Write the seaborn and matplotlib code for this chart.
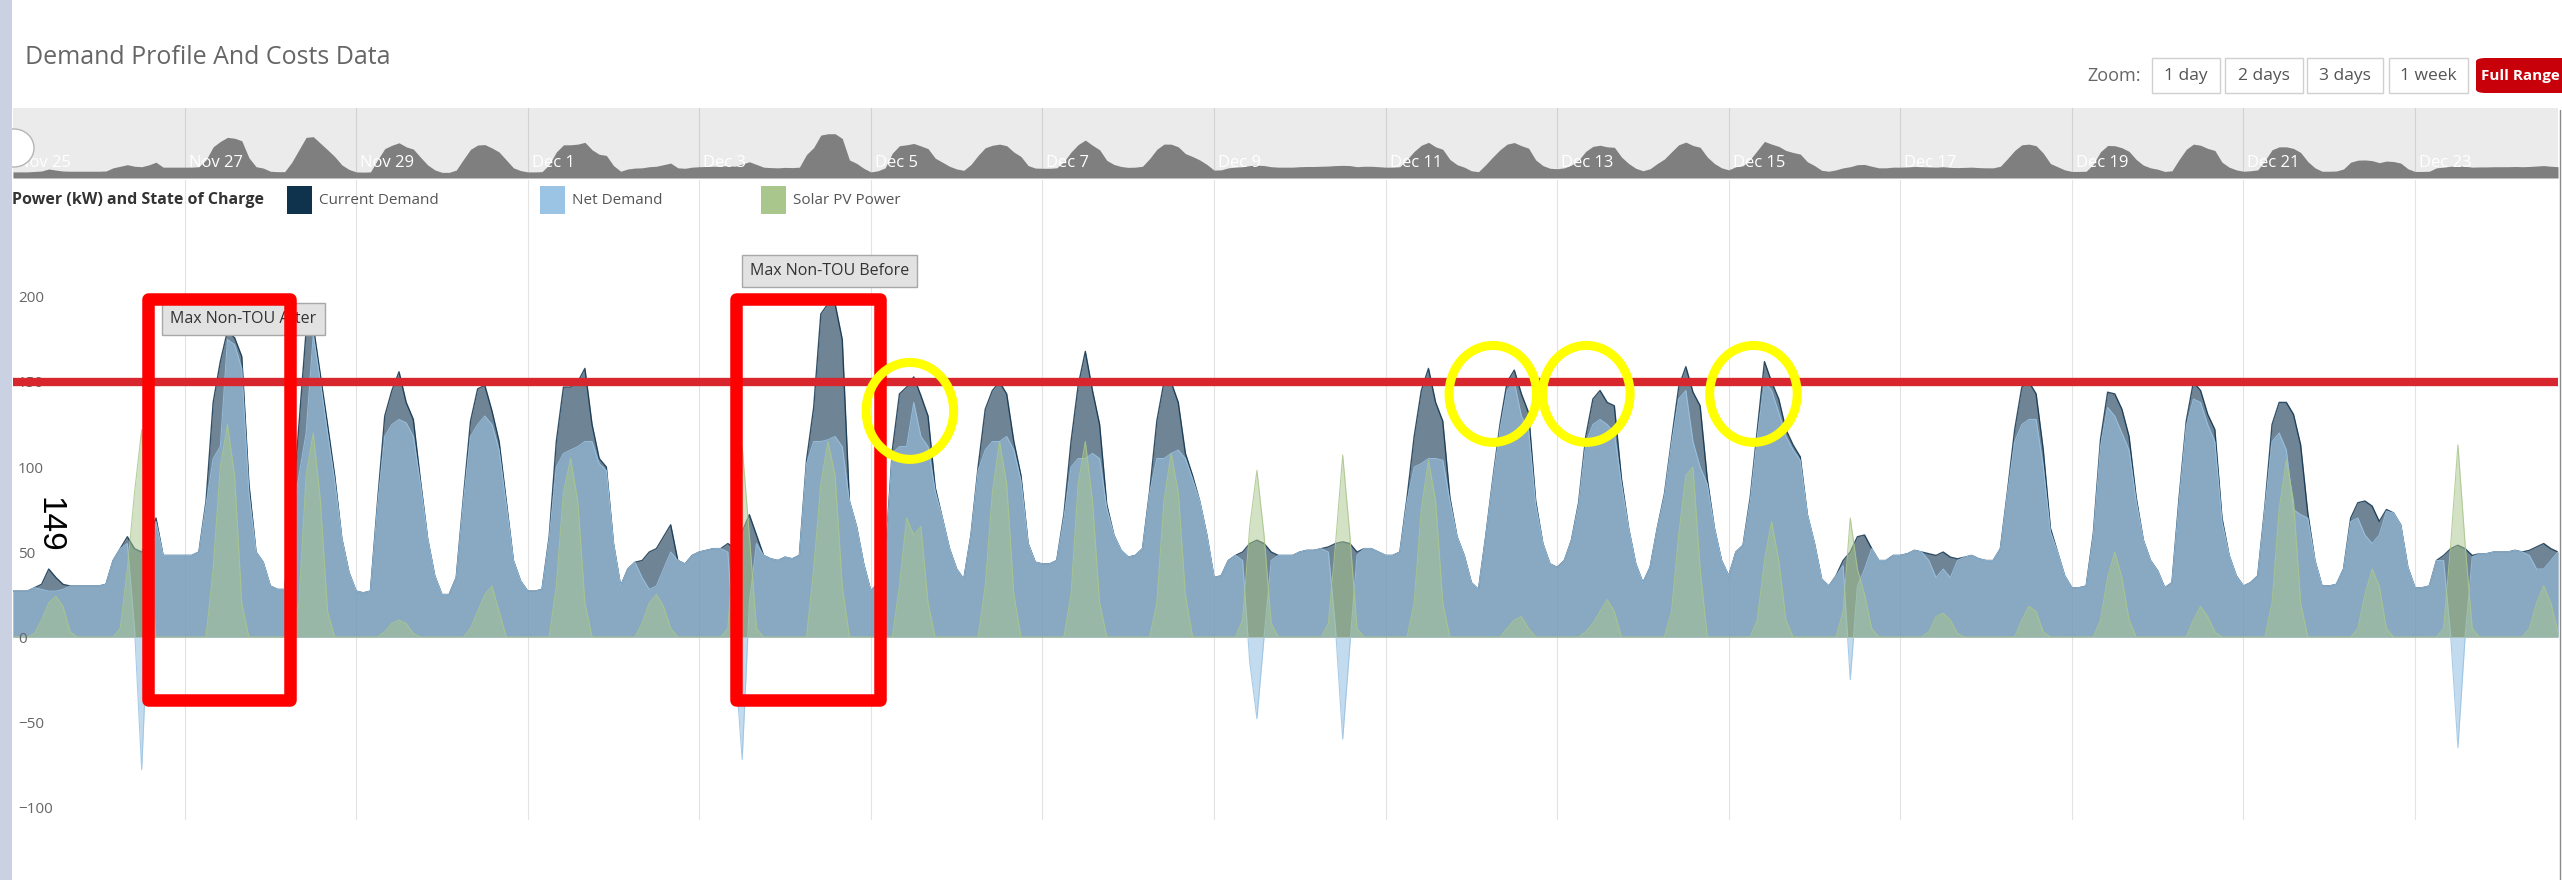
import matplotlib
matplotlib.use("Agg")
import numpy as np
import pandas as pd
import matplotlib.pyplot as plt
import matplotlib.dates as mdates
import matplotlib.transforms as mtransforms
from matplotlib.patches import Rectangle, Ellipse, FancyBboxPatch
from matplotlib.lines import Line2D
import seaborn as sns

W, H = 2562, 880

# two-hourly readings (00:00, 02:00 ... 22:00), one row per day, first row = Sat 25 Nov 2017
start_day = "2017-11-25"
current_demand = [
    [27, 27, 27, 29, 31, 40, 35, 31, 30, 30, 30, 30],
    [30, 31, 45, 52, 59, 52, 50, 58, 70, 48, 48, 48],
    [48, 48, 50, 80, 138, 162, 180, 176, 165, 90, 50, 44],
    [30, 28, 28, 70, 125, 180, 183, 154, 125, 95, 58, 38],
    [27, 26, 27, 80, 130, 145, 156, 138, 128, 92, 58, 36],
    [25, 25, 35, 82, 127, 146, 148, 133, 115, 80, 45, 33],
    [27, 27, 28, 59, 115, 147, 147, 150, 158, 125, 105, 100],
    [55, 30, 40, 44, 45, 50, 52, 59, 66, 45, 43, 48],
    [50, 51, 52, 52, 55, 52, 62, 72, 60, 48, 46, 45],
    [47, 46, 48, 104, 135, 190, 196, 196, 175, 80, 65, 43],
    [27, 32, 45, 110, 143, 147, 153, 142, 130, 88, 70, 52],
    [40, 34, 60, 100, 134, 145, 150, 143, 115, 95, 55, 44],
    [43, 43, 45, 72, 115, 148, 168, 145, 125, 78, 60, 51],
    [47, 48, 52, 86, 127, 150, 150, 138, 108, 95, 80, 60],
    [35, 36, 45, 48, 50, 55, 57, 55, 50, 48, 48, 48],
    [50, 51, 51, 52, 53, 55, 56, 55, 50, 52, 52, 50],
    [48, 48, 50, 82, 118, 145, 158, 138, 127, 82, 59, 48],
    [32, 28, 59, 93, 125, 150, 157, 143, 132, 80, 55, 43],
    [41, 45, 57, 79, 118, 140, 145, 138, 136, 93, 64, 43],
    [32, 41, 64, 84, 116, 147, 159, 144, 136, 93, 64, 45],
    [36, 50, 54, 82, 122, 162, 150, 140, 122, 113, 106, 72],
    [55, 34, 30, 36, 45, 50, 59, 60, 52, 45, 45, 48],
    [48, 49, 51, 50, 49, 48, 50, 47, 46, 47, 48, 46],
    [45, 45, 52, 86, 122, 147, 150, 143, 110, 64, 50, 36],
    [29, 29, 30, 61, 116, 144, 143, 134, 118, 82, 57, 45],
    [39, 29, 32, 82, 127, 150, 145, 131, 122, 70, 48, 36],
    [30, 32, 36, 77, 125, 138, 138, 131, 113, 73, 45, 30],
    [30, 31, 40, 70, 79, 80, 77, 68, 75, 73, 66, 41],
    [29, 29, 30, 45, 48, 52, 54, 52, 48, 49, 49, 50],
    [50, 50, 51, 50, 51, 53, 55, 52, 50],
]
net_demand = [
    [27, 27, 27, 29, 28, 27, 27, 28, 30, 30, 30, 30],
    [30, 31, 45, 52, 55, 5, -78, 20, 68, 48, 48, 48],
    [48, 48, 50, 78, 105, 112, 175, 172, 158, 85, 50, 44],
    [30, 28, 28, 68, 95, 120, 178, 150, 120, 92, 58, 38],
    [27, 26, 27, 78, 118, 125, 128, 126, 118, 90, 58, 36],
    [25, 25, 35, 80, 118, 125, 130, 125, 110, 78, 45, 33],
    [27, 27, 28, 58, 100, 108, 110, 112, 115, 115, 102, 98],
    [55, 30, 40, 44, 35, 28, 30, 40, 50, 45, 43, 48],
    [50, 51, 52, 52, 50, -15, -72, 20, 55, 48, 46, 45],
    [47, 46, 48, 102, 115, 115, 116, 118, 112, 80, 65, 43],
    [27, 32, 45, 108, 112, 112, 138, 118, 112, 86, 70, 52],
    [40, 34, 60, 98, 110, 115, 115, 118, 110, 92, 55, 44],
    [43, 43, 45, 70, 100, 105, 105, 108, 105, 76, 60, 51],
    [47, 48, 52, 85, 105, 105, 108, 110, 105, 93, 80, 60],
    [35, 36, 45, 48, 45, -15, -48, 0, 45, 48, 48, 48],
    [50, 51, 51, 52, 50, 5, -60, -5, 48, 52, 52, 50],
    [48, 48, 50, 80, 100, 102, 105, 105, 104, 80, 59, 48],
    [32, 28, 59, 92, 122, 145, 150, 130, 122, 78, 55, 43],
    [41, 45, 57, 78, 114, 125, 128, 125, 120, 90, 64, 43],
    [32, 41, 64, 83, 114, 140, 145, 115, 100, 90, 64, 45],
    [36, 50, 54, 80, 118, 150, 145, 132, 118, 110, 104, 72],
    [55, 34, 30, 36, 42, -25, 30, 40, 52, 45, 45, 48],
    [48, 49, 51, 50, 45, 35, 40, 35, 45, 47, 48, 46],
    [45, 45, 52, 85, 115, 125, 128, 128, 100, 62, 50, 36],
    [29, 29, 30, 60, 112, 135, 130, 120, 110, 80, 57, 45],
    [39, 29, 32, 80, 124, 140, 138, 125, 115, 68, 48, 36],
    [30, 32, 36, 76, 115, 120, 110, 75, 72, 70, 45, 30],
    [30, 31, 40, 68, 70, 60, 55, 60, 74, 73, 66, 41],
    [29, 29, 30, 45, 45, 0, -65, 0, 47, 49, 49, 50],
    [50, 50, 51, 50, 48, 40, 40, 45, 50],
]
solar_pv = [
    [0, 0, 0, 2, 10, 20, 24, 18, 3, 0, 0, 0],
    [0, 0, 0, 5, 40, 85, 122, 45, 0, 0, 0, 0],
    [0, 0, 0, 0, 40, 100, 125, 95, 20, 0, 0, 0],
    [0, 0, 0, 0, 20, 95, 120, 80, 15, 0, 0, 0],
    [0, 0, 0, 0, 3, 8, 10, 8, 2, 0, 0, 0],
    [0, 0, 0, 0, 5, 15, 25, 30, 15, 0, 0, 0],
    [0, 0, 0, 0, 30, 85, 105, 80, 20, 0, 0, 0],
    [0, 0, 0, 0, 8, 20, 25, 18, 5, 0, 0, 0],
    [0, 0, 0, 0, 5, 65, 112, 60, 5, 0, 0, 0],
    [0, 0, 0, 0, 40, 90, 115, 95, 30, 0, 0, 0],
    [0, 0, 0, 0, 30, 70, 60, 65, 20, 0, 0, 0],
    [0, 0, 0, 0, 30, 85, 115, 90, 25, 0, 0, 0],
    [0, 0, 0, 0, 25, 90, 115, 80, 20, 0, 0, 0],
    [0, 0, 0, 0, 20, 80, 108, 85, 25, 0, 0, 0],
    [0, 0, 0, 0, 10, 65, 98, 60, 8, 0, 0, 0],
    [0, 0, 0, 0, 8, 55, 107, 60, 5, 0, 0, 0],
    [0, 0, 0, 0, 20, 75, 104, 80, 20, 0, 0, 0],
    [0, 0, 0, 0, 0, 5, 10, 12, 5, 0, 0, 0],
    [0, 0, 0, 0, 3, 8, 15, 22, 15, 0, 0, 0],
    [0, 0, 0, 0, 15, 60, 95, 100, 40, 0, 0, 0],
    [0, 0, 0, 0, 10, 45, 68, 45, 10, 0, 0, 0],
    [0, 0, 0, 0, 15, 70, 40, 25, 5, 0, 0, 0],
    [0, 0, 0, 0, 3, 12, 14, 10, 2, 0, 0, 0],
    [0, 0, 0, 0, 0, 10, 18, 15, 3, 0, 0, 0],
    [0, 0, 0, 0, 10, 35, 50, 35, 10, 0, 0, 0],
    [0, 0, 0, 0, 0, 10, 18, 12, 3, 0, 0, 0],
    [0, 0, 0, 0, 20, 75, 104, 80, 20, 0, 0, 0],
    [0, 0, 0, 0, 5, 25, 40, 30, 5, 0, 0, 0],
    [0, 0, 0, 0, 5, 55, 113, 55, 5, 0, 0, 0],
    [0, 0, 0, 0, 5, 20, 30, 20, 3],
]
demand_limit = 150
limit_label = "149"
y_ticks = [-100, -50, 0, 50, 100, 150, 200]
zoom_buttons = ["1 day", "2 days", "3 days", "1 week"]
series_names = ["Current Demand", "Net Demand", "Solar PV Power"]

# highlighted spans (red boxes) and peaks (yellow rings)
box_spans = [("2017-11-26 13:45", "2017-11-28 05:30"), ("2017-12-03 10:20", "2017-12-05 02:25")]
box_range = (-37, 199)
ring_centres = [("2017-12-05 10:55", 133), ("2017-12-12 06:00", 143),
                ("2017-12-13 08:10", 143), ("2017-12-15 06:55", 143)]
flags = [("2017-11-27 16:30", 187, "Max Non-TOU After"),
         ("2017-12-04 12:20", 215, "Max Non-TOU Before")]

colors = {"Current Demand": "#0f324d", "Net Demand": "#9bc3e3", "Solar PV Power": "#a9c68c"}
alphas = {"Current Demand": 0.6, "Net Demand": 0.6, "Solar PV Power": 0.5}
line_widths = {"Current Demand": 1.0, "Net Demand": 0.8, "Solar PV Power": 0.8}


def flat(rows):
    return [v for row in rows for v in row]


def fx(x):
    return x / W


def fy(y):
    return 1 - y / H


sns.set_theme(style="white")
plt.rcParams["font.family"] = ["Open Sans", "DejaVu Sans"]

df = pd.DataFrame({
    "Current Demand": flat(current_demand),
    "Net Demand": flat(net_demand),
    "Solar PV Power": flat(solar_pv),
})
df["time"] = pd.date_range(start_day, periods=len(df), freq="2h")
grid_days = pd.date_range("2017-11-27", "2017-12-23", freq="2D")
nav_days = pd.date_range(start_day, "2017-12-23", freq="2D")

fig = plt.figure(figsize=(W / 100, H / 100), dpi=100)
fig.patch.set_facecolor("white")

# main chart
ax = fig.add_axes([fx(13), fy(820), (2558 - 13) / W, (820 - 180) / H])
for i, name in enumerate(series_names):
    ax.fill_between(df["time"], 0, df[name], color=colors[name], alpha=alphas[name],
                    lw=0, zorder=1 + 2 * i)
    sns.lineplot(data=df, x="time", y=name, ax=ax, color=colors[name],
                 lw=line_widths[name], alpha=0.85, zorder=2 + 2 * i)
ax.axhline(demand_limit, color="#d8262e", lw=6, zorder=9)
ax.set_xlim(df["time"].iloc[0], df["time"].iloc[-1])
ax.set_ylim(-107.6, 268.8)
ax.set_xticks(grid_days)
ax.set_yticks(y_ticks)
ax.set(xlabel="", ylabel="")
ax.set_axisbelow(True)
ax.grid(axis="x", color="#e3e3e3", lw=0.8)
ax.grid(axis="y", visible=False)
ax.tick_params(axis="x", length=0, labelbottom=False)
ax.tick_params(axis="y", length=0, pad=-3.5, labelsize=11, labelcolor="#666666")
plt.setp(ax.get_yticklabels(), ha="left")
ax.yaxis.set_zorder(8)
ax.set_facecolor("none")
sns.despine(ax=ax, left=True, bottom=True)

for t0, t1 in box_spans:
    x0, x1 = mdates.date2num(pd.Timestamp(t0)), mdates.date2num(pd.Timestamp(t1))
    ax.add_patch(Rectangle((x0, box_range[0]), x1 - x0, box_range[1] - box_range[0],
                           fill=False, ec="#ff0000", lw=9, joinstyle="round", zorder=12))
for t, v in ring_centres:
    ax.add_patch(Ellipse((mdates.date2num(pd.Timestamp(t)), v), 1.02, 57,
                         fill=False, ec="#ffff00", lw=6.5, zorder=12))
for t, v, label in flags:
    ax.text(mdates.date2num(pd.Timestamp(t)), v, label, ha="center", va="center",
            fontsize=11.5, color="#333333", zorder=11,
            bbox=dict(boxstyle="square,pad=0.5", fc="#e2e2e2", ec="#a8a8a8", lw=1))

# navigator strip
nav = fig.add_axes([fx(13), fy(178), (2558 - 13) / W, 70 / H])
nav.set_facecolor("#ebebeb")
nav.fill_between(df["time"], 0, df["Current Demand"], color="#7f7f7f", lw=0)
nav.set_xlim(df["time"].iloc[0], df["time"].iloc[-1])
nav.set_ylim(0, 310)
nav.set_xticks(grid_days)
nav.grid(axis="x", color="#d2d2d2", lw=0.8)
nav.tick_params(length=0, labelbottom=False, labelleft=False)
sns.despine(ax=nav, left=True, bottom=True, right=True, top=True)
lab_tr = mtransforms.offset_copy(nav.get_xaxis_transform(), fig=fig, x=4, y=0, units="dots")
for d in nav_days:
    nav.text(d, 0.22, d.strftime("%b %-d"), transform=lab_tr, color="white",
             fontsize=12, ha="left", va="center")

# page chrome: side bar, title, range buttons, legend
fig.add_artist(Ellipse((fx(14), fy(148)), 40 / W, 38 / H, transform=fig.transFigure,
                       fc="white", ec="#b5b5b5", lw=1, zorder=20))
fig.add_artist(Rectangle((0, 0), 12 / W, 1, transform=fig.transFigure,
                         fc="#c9d1e3", ec="none", zorder=21))
fig.add_artist(Line2D([fx(2559.5)] * 2, [fy(110), 0], color="#8a8a8a", lw=1))
fig.text(fx(25), fy(58), "Demand Profile And Costs Data", fontsize=18, color="#666666",
         va="center", ha="left")
fig.text(fx(2087), fy(76), "Zoom:", fontsize=13, color="#666666", va="center", ha="left")
btn_edges = [(2152, 2220), (2225, 2303), (2307, 2383), (2389, 2468)]
for (x0, x1), label in zip(btn_edges, zoom_buttons):
    fig.add_artist(Rectangle((fx(x0), fy(93)), (x1 - x0) / W, 35 / H,
                             transform=fig.transFigure, fc="white", ec="#d0d0d0", lw=1))
    fig.text(fx((x0 + x1) / 2), fy(76), label, fontsize=12.5, color="#555555",
             ha="center", va="center")
fig.add_artist(FancyBboxPatch((fx(2476), fy(93)), 120 / W, 35 / H,
                              boxstyle="round,pad=0,rounding_size=0.004",
                              transform=fig.transFigure, fc="#c8000a", ec="none"))
fig.text(fx(2481), fy(76), "Full Range", fontsize=11, color="white", weight="bold",
         ha="left", va="center")

fig.text(fx(12), fy(200), "Power (kW) and State of Charge", fontsize=11.5, weight="bold",
         color="#333333", va="center", ha="left")
for x0, name in zip([287, 540, 761], series_names):
    fig.add_artist(Rectangle((fx(x0), fy(214)), 25 / W, 28 / H, transform=fig.transFigure,
                             fc=colors[name], ec="none"))
    fig.text(fx(x0 + 32), fy(200), name, fontsize=11, color="#555555",
             va="center", ha="left")

fig.text(fx(48.5), fy(525), limit_label, rotation=-90, fontsize=24, color="black",
         family="Liberation Sans", ha="center", va="center", zorder=22)

fig.savefig("out.png", dpi=100)
